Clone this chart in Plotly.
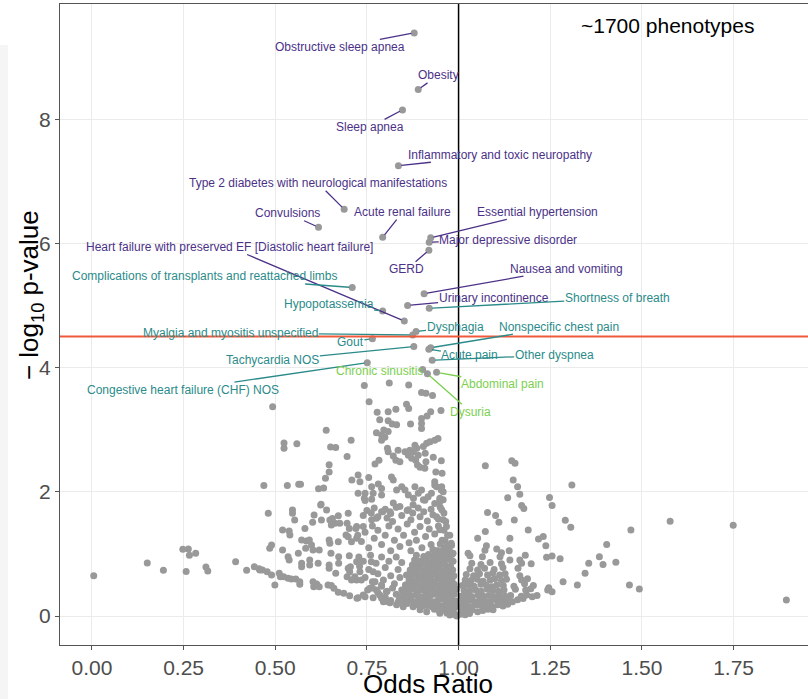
import plotly.graph_objects as go

# ---------------- data (odds ratio, -log10 p) ----------------
far_left = [(0.005,0.65),(0.151,0.855),(0.195,0.735),(0.248,1.075),(0.263,1.08),(0.266,0.98),
            (0.283,1.01),(0.257,0.715),(0.311,0.79),(0.316,0.725),(0.392,0.875),(0.422,0.735),
            (0.443,0.795),(0.456,0.76)]

mid_low = [(0.481,1.653),(0.547,1.706),(0.547,1.653),(0.553,1.545),(0.520,1.384),(0.538,1.368),
           (0.540,1.304),(0.581,1.411),(0.602,1.508),(0.606,1.626),(0.626,1.545),(0.624,1.787),
           (0.640,1.706),(0.649,1.545),(0.656,1.572),(0.663,1.492),(0.672,1.615),(0.653,1.465),
           (0.676,1.492),(0.699,1.653),(0.696,1.492),(0.702,1.411),(0.693,1.304),(0.720,1.411),
           (0.722,1.250),(0.490,1.143),(0.485,1.089),(0.520,1.062),(0.572,1.223),(0.585,1.207),
           (0.593,1.223),(0.583,1.089),(0.603,1.062),(0.599,1.143),(0.620,1.062),(0.647,1.223),
           (0.649,1.170),(0.672,1.197),(0.699,1.277),(0.708,1.197),(0.535,0.955),(0.538,0.901),
           (0.563,1.009),(0.572,0.848),(0.572,0.794),(0.594,0.901),(0.594,0.821),(0.617,0.848),
           (0.652,1.009),(0.647,0.821),(0.647,0.767),(0.673,0.955),(0.673,0.848),(0.702,0.971),
           (0.705,0.794),(0.722,0.874),(0.458,0.740),(0.465,0.740),(0.478,0.713),(0.490,0.660),
           (0.511,0.687),(0.514,0.633),(0.523,0.633),(0.535,0.606),(0.544,0.596),(0.556,0.596),
           (0.567,0.552),(0.567,0.510),(0.499,0.499),(0.603,0.552),(0.605,0.472),(0.613,0.515),
           (0.620,0.472),(0.644,0.499),(0.653,0.490),(0.660,0.445),(0.672,0.381),(0.687,0.365),
           (0.703,0.327),(0.723,0.284),(0.665,0.687),(0.699,0.767),(0.703,0.713),(0.696,0.633),
           (0.717,0.633),(0.722,0.579),(0.708,0.579)]

mid_high = [(0.469,2.10),(0.524,2.785),(0.524,2.70),(0.559,2.775),(0.533,2.10),(0.564,2.12),
            (0.569,2.12),(0.618,2.05),(0.632,2.06),(0.625,1.80),(0.639,2.99),(0.651,2.72),
            (0.665,2.715),(0.647,2.435),(0.647,2.32),(0.637,2.22),(0.707,2.83),(0.696,2.57),
            (0.709,2.19),(0.493,3.37)]

upper_cloud = [(0.743,3.71),(0.811,3.75),(0.864,3.72),(0.899,3.60),(0.911,3.585),(0.929,3.55),
               (0.756,3.45),(0.858,3.41),(0.864,3.34),(0.778,3.28),(0.808,3.29),(0.829,3.33),
               (0.785,3.16),(0.808,3.145),(0.819,3.09),(0.831,3.08),(0.869,3.09),(0.899,3.18),
               (0.899,3.10),(0.899,3.02),(0.914,3.22),(0.924,3.29),(0.952,3.31),(0.776,2.95),
               (0.790,2.915),(0.799,2.88),(0.808,2.97),(0.796,2.995),(0.790,2.83),(0.806,2.70),
               (0.808,2.645),(0.835,2.67),(0.822,2.577),(0.829,2.51),(0.840,2.485),(0.854,2.646),
               (0.867,2.67),(0.863,2.59),(0.872,2.54),(0.881,2.75),(0.886,2.70),(0.877,2.646),
               (0.890,2.59),(0.883,2.51),(0.888,2.43),(0.895,2.394),(0.908,2.38),(0.911,2.485),
               (0.904,2.73),(0.913,2.78),(0.922,2.807),(0.935,2.83),(0.944,2.86),(0.909,2.62),
               (0.931,2.556),(0.953,2.50),(0.938,2.32),(0.955,2.297),(0.783,2.51),(0.772,2.447),
               (0.726,2.27),(0.731,2.163),(0.755,2.23),(0.726,1.975),(0.745,1.975),(0.743,1.895),
               (0.767,1.975),(0.763,2.08),(0.781,2.125),(0.790,2.055),(0.817,2.24),(0.822,2.19),
               (0.790,1.95),(0.763,1.88),(0.831,2.03),(0.845,2.08),(0.854,2.03),(0.863,1.95),
               (0.877,1.895),(0.881,2.08),(0.890,1.975),(0.899,2.03),(0.908,1.865),(0.917,1.92),
               (0.926,1.975),(0.940,2.08),(0.935,2.163),(0.953,2.03),(0.949,1.895),(0.935,2.11),
               (0.954,2.08),(0.958,2.00)]

left_mid = [(0.745,1.86),(0.740,1.44),(0.722,1.44),(0.763,1.55),(0.776,1.575),(0.793,1.68),
            (0.813,1.68),(0.822,1.82),(0.840,1.765),(0.863,1.71),(0.876,1.79),(0.904,1.87),
            (0.949,1.87),(0.958,1.87),(0.74,1.62),(0.75,1.70),(0.762,1.66),(0.77,1.74),
            (0.78,1.60),(0.79,1.68),(0.80,1.72),(0.805,1.58),(0.815,1.65),(0.82,1.52),
            (0.83,1.75),(0.845,1.62),(0.86,1.70),(0.87,1.55),(0.875,1.66),(0.89,1.74),
            (0.895,1.60),(0.905,1.68),(0.915,1.53),(0.925,1.72),(0.93,1.63),(0.945,1.56),
            (0.95,1.75),(0.96,1.66),(0.965,1.52),(0.725,1.30),(0.735,1.20),(0.745,1.35),
            (0.755,1.10),(0.765,1.45),(0.77,1.25),(0.78,1.38),(0.79,1.15),(0.80,1.30),
            (0.81,1.45),(0.815,1.05),(0.825,1.22),(0.835,1.40),(0.84,1.12),(0.85,1.30),
            (0.86,1.48),(0.865,1.18),(0.87,1.05),(0.88,1.35),(0.885,1.22),(0.895,1.44),
            (0.90,1.10),(0.91,1.28),(0.92,1.40),(0.925,1.15),(0.935,1.32),(0.94,1.05),
            (0.945,1.45),(0.955,1.22),(0.96,1.38),(0.965,1.10),(0.97,1.30),(0.975,1.02),
            (0.935,1.81),(0.949,1.84),(0.954,1.71),(0.94,1.60),(0.958,1.55),(0.967,1.44),
            (0.949,1.39),(0.976,1.30),(0.963,1.22),(0.981,1.14),(0.967,1.06),(0.985,1.01)]

left_low = [(0.728,0.95),(0.73,0.80),(0.74,0.88),(0.745,0.62),(0.755,0.75),(0.76,0.98),
            (0.765,0.55),(0.775,0.85),(0.78,0.68),(0.79,0.95),(0.795,0.58),(0.80,0.78),
            (0.81,0.88),(0.815,0.65),(0.825,0.52),(0.83,0.95),(0.835,0.75),(0.84,0.62),
            (0.845,0.86),(0.765,0.45),(0.78,0.38),(0.79,0.48),(0.80,0.30),(0.805,0.40),
            (0.815,0.25),(0.82,0.45),(0.83,0.35),(0.835,0.22),(0.845,0.42),(0.85,0.30),
            (0.86,0.20),(0.855,0.50),(0.726,0.295),(0.745,0.31),(0.767,0.295),(0.752,0.42),
            (0.776,0.42),(0.785,0.34),(0.795,0.23),(0.813,0.215),(0.831,0.18),(0.849,0.15),
            (0.876,0.15),(0.895,0.10),(0.913,0.07),(0.949,0.045),(0.976,0.015),(0.995,0.0),
            (0.731,0.713),(0.735,0.579),(0.762,0.874),(0.767,0.713),(0.772,0.552),(0.758,0.445),
            (0.74,0.338),(0.79,0.499),(0.803,0.391),(0.79,0.284),(0.808,0.23)]

left_core = [(0.968,0.05),(0.981,0.03),(0.992,0.02),(0.975,0.07),
             (0.934,0.11),(0.947,0.09),(0.959,0.10),(0.972,0.12),(0.986,0.08),
             (0.889,0.18),(0.901,0.16),(0.914,0.17),(0.927,0.15),(0.94,0.18),(0.953,0.16),
             (0.966,0.19),(0.979,0.17),(0.992,0.15),
             (0.838,0.26),(0.851,0.24),(0.864,0.25),(0.877,0.23),(0.891,0.26),(0.904,0.24),
             (0.917,0.26),(0.93,0.23),(0.943,0.25),(0.956,0.27),(0.969,0.24),(0.982,0.26),(0.994,0.24),
             (0.846,0.33),(0.858,0.35),(0.871,0.32),(0.884,0.34),(0.897,0.31),(0.91,0.34),
             (0.923,0.33),(0.936,0.35),(0.949,0.32),(0.962,0.34),(0.975,0.33),(0.988,0.35),
             (0.852,0.42),(0.865,0.40),(0.878,0.43),(0.891,0.41),(0.904,0.42),(0.917,0.40),
             (0.93,0.43),(0.943,0.41),(0.956,0.40),(0.969,0.42),(0.982,0.41),(0.994,0.43),
             (0.858,0.50),(0.871,0.48),(0.884,0.51),(0.897,0.49),(0.91,0.50),(0.923,0.48),
             (0.936,0.51),(0.949,0.49),(0.962,0.50),(0.975,0.48),(0.988,0.51),
             (0.865,0.58),(0.878,0.56),(0.891,0.59),(0.904,0.57),(0.917,0.58),(0.93,0.56),
             (0.943,0.59),(0.956,0.57),(0.969,0.56),(0.982,0.58),
             (0.858,0.66),(0.871,0.64),(0.884,0.67),(0.897,0.65),(0.91,0.66),(0.923,0.64),
             (0.936,0.67),(0.949,0.65),(0.962,0.64),(0.975,0.66),(0.987,0.65),
             (0.868,0.74),(0.881,0.72),(0.894,0.75),(0.907,0.73),(0.92,0.74),(0.933,0.72),
             (0.946,0.75),(0.959,0.73),(0.972,0.72),(0.984,0.74),
             (0.874,0.82),(0.887,0.80),(0.90,0.83),(0.913,0.81),(0.926,0.82),(0.939,0.80),
             (0.952,0.83),(0.965,0.81),(0.978,0.80),
             (0.88,0.90),(0.895,0.88),(0.91,0.91),(0.922,0.89),(0.935,0.88),(0.948,0.90),
             (0.961,0.89),(0.974,0.91),(0.985,0.88),
             (0.885,0.98),(0.905,0.96),(0.918,0.99),(0.931,0.97),(0.944,0.96),(0.957,0.98),
             (0.97,0.97),(0.982,0.99),
             (0.93,1.07),(0.945,1.05),(0.96,1.08),(0.975,1.06),
             (0.95,1.16),(0.968,1.14),(0.98,1.17)]

right_core = [(1.005,0.03),(1.018,0.02),(1.03,0.04),
              (1.01,0.09),(1.024,0.08),(1.037,0.10),(1.052,0.07),(1.066,0.09),(1.08,0.11),(1.094,0.10),
              (1.008,0.16),(1.022,0.17),(1.036,0.15),(1.05,0.18),(1.064,0.16),(1.079,0.17),
              (1.093,0.15),(1.107,0.18),(1.121,0.16),(1.134,0.19),
              (1.012,0.24),(1.027,0.25),(1.043,0.23),(1.058,0.26),(1.072,0.24),(1.087,0.23),
              (1.103,0.26),(1.118,0.24),(1.132,0.25),(1.147,0.23),(1.161,0.26),(1.176,0.28),
              (1.007,0.32),(1.021,0.33),(1.037,0.31),(1.053,0.34),(1.068,0.32),(1.083,0.33),
              (1.097,0.31),(1.112,0.34),(1.127,0.32),(1.142,0.33),(1.171,0.32),
              (1.186,0.34),(1.201,0.31),(1.214,0.33),
              (1.015,0.41),(1.03,0.40),(1.047,0.42),(1.062,0.40),(1.079,0.43),(1.094,0.41),
              (1.109,0.40),(1.124,0.42),(1.155,0.43),(1.183,0.42),(1.197,0.44),
              (1.01,0.49),(1.026,0.50),(1.042,0.48),(1.061,0.51),(1.076,0.49),(1.091,0.47),
              (1.104,0.50),(1.122,0.49),(1.151,0.48),(1.18,0.52),(1.204,0.49),
              (1.018,0.58),(1.034,0.57),(1.051,0.59),(1.067,0.56),(1.086,0.58),(1.099,0.60),
              (1.117,0.57),(1.131,0.59),(1.172,0.58),(1.188,0.60),
              (1.021,0.67),(1.041,0.65),(1.057,0.68),(1.079,0.66),(1.093,0.69),(1.112,0.66),
              (1.127,0.68),(1.167,0.65),
              (1.031,0.76),(1.052,0.74),(1.071,0.77),(1.097,0.75),(1.121,0.78),(1.162,0.77),
              (1.036,0.85),(1.061,0.83),(1.086,0.86),(1.117,0.84),(1.172,0.85)]

right_sparse = [(1.073,2.42),(1.145,2.50),(1.154,2.46),(1.149,2.19),(1.161,2.08),(1.167,1.96),
                (1.134,1.905),(1.172,1.78),(1.178,1.73),(1.079,1.665),(1.101,1.62),(1.110,1.51),
                (1.152,1.545),(1.190,1.385),(1.052,1.25),(1.073,1.36),(1.140,1.25),(1.218,1.24),
                (1.231,1.28),(1.238,1.13),(1.248,1.91),(1.255,1.78),(1.309,2.11),(1.291,1.54),
                (1.306,1.43),(1.470,1.385),(1.577,1.525),(1.749,1.46),(1.404,1.15),(1.384,0.955),
                (1.394,0.83),(1.355,0.85),(1.345,0.69),(1.429,0.865),(1.240,0.945),(1.255,0.965),
                (1.277,0.92),(1.285,0.55),(1.324,0.50),(1.243,0.42),(1.255,0.39),(1.246,0.455),
                (1.466,0.50),(1.493,0.435),(1.894,0.257),(1.076,1.13),(1.104,1.08),(1.117,1.02),
                (1.138,1.05),(1.140,0.90),(1.167,0.90),(1.182,0.98),(1.198,0.84),(1.072,1.06),
                (1.065,0.955),(1.113,0.955),(1.026,1.01),(1.031,0.97)]

# labelled phenotypes
label_names = ["Obstructive sleep apnea", "Obesity", "Sleep apnea",
               "Inflammatory and toxic neuropathy",
               "Type 2 diabetes with neurological manifestations", "Convulsions",
               "Acute renal failure", "Essential hypertension", "Major depressive disorder",
               "GERD", "Heart failure with preserved EF [Diastolic heart failure]",
               "Nausea and vomiting", "Complications of transplants and reattached limbs",
               "Urinary incontinence", "Shortness of breath", "Hypopotassemia", "Dysphagia",
               "Nonspecific chest pain", "Myalgia and myositis unspecified", "Gout",
               "Tachycardia NOS", "Acute pain", "Other dyspnea",
               "Congestive heart failure (CHF) NOS", "Chronic sinusitis", "Abdominal pain",
               "Dysuria"]
label_or = [0.879, 0.890, 0.847, 0.836, 0.688, 0.618, 0.793, 0.924, 0.920, 0.919, 0.852,
            0.906, 0.710, 0.861, 0.920, 0.793, 0.884, 0.924, 0.875, 0.765, 0.878, 0.919,
            0.928, 0.751, 0.902, 0.940, 0.915]
label_p = [9.39, 8.48, 8.15, 7.25, 6.55, 6.26, 6.10, 6.09, 6.02, 5.89, 4.75, 5.19, 5.29,
           5.00, 4.955, 4.91, 4.58, 4.32, 4.525, 4.465, 4.34, 4.295, 4.12, 4.08, 3.97,
           3.925, 3.90]
label_group = [1, 1, 1, 1, 1, 1, 1, 1, 1, 1, 1, 1, 2, 1, 2, 2, 2, 2, 2, 2, 2, 2, 2, 2,
               3, 3, 3]

threshold = 4.5
x_ticks = [0.0, 0.25, 0.5, 0.75, 1.0, 1.25, 1.5, 1.75]
x_tick_text = ["0.00", "0.25", "0.50", "0.75", "1.00", "1.25", "1.50", "1.75"]
y_ticks = [0, 2, 4, 6, 8]

# ---------------- styling / layout ----------------
group_colors = {1: "#4b3187", 2: "#2a8b8a", 3: "#7ccf4f"}
# text offsets (pixels) of each label from its point
label_offsets = [(-74, 14), (20, -14), (-32, 17), (102, -11), (-26, -26), (-31, -14),
                 (20, -25), (107, -26), (79, -2), (-22, 19), (-175, -74), (142, -25),
                 (-148, -11), (86, -8), (188, -10), (-54, -7), (39, -5), (128, -21),
                 (-182, -2), (-22, 3), (-141, 14), (41, 6), (122, -5), (-184, 27),
                 (-43, 2), (66, 12), (43, 38)]

FONT = "Liberation Sans, Arial, sans-serif"

pts = (far_left + mid_low + mid_high + upper_cloud + left_mid + left_low + left_core
       + right_core + right_sparse + list(zip(label_or, label_p)))
xs = [p[0] for p in pts]
ys = [p[1] for p in pts]

fig = go.Figure()
fig.add_trace(go.Scatter(x=xs, y=ys, mode="markers",
                         marker=dict(size=7, color="#999999", line=dict(width=0)),
                         hoverinfo="skip", showlegend=False, cliponaxis=True))

annotations = []
for name, ox, oy, g, (dx, dy) in zip(label_names, label_or, label_p, label_group, label_offsets):
    c = group_colors[g]
    annotations.append(dict(x=ox, y=oy, xref="x", yref="y", text=name, showarrow=True,
                            arrowhead=0, arrowwidth=1.3, arrowcolor=c, ax=dx, ay=dy,
                            standoff=3, borderpad=0,
                            font=dict(family=FONT, size=12, color=c)))

annotations.append(dict(x=0.812, y=0.967, xref="paper", yref="paper", text="~1700 phenotypes",
                        xanchor="center", yanchor="middle",
                        showarrow=False, font=dict(family=FONT, size=21, color="black")))
annotations.append(dict(x=0.492, y=-0.0605, xref="paper", yref="paper", text="Odds Ratio",
                        xanchor="center", yanchor="middle",
                        showarrow=False, font=dict(family=FONT, size=26, color="black")))
annotations.append(dict(x=-0.040, y=0.546, xref="paper", yref="paper", textangle=-90,
                        xanchor="center", yanchor="middle",
                        text="\u2212 log<sub>10</sub> p-value",
                        showarrow=False, font=dict(family=FONT, size=26, color="black")))

shapes = [
    dict(type="rect", xref="paper", yref="paper", x0=-0.0802, x1=-0.0695, y0=-0.0842, y1=0.936,
         fillcolor="#f5f5f5", line=dict(width=0), layer="below"),
    dict(type="line", xref="x", yref="paper", x0=1.0, x1=1.0, y0=0, y1=1,
         line=dict(color="black", width=1.5)),
    dict(type="line", xref="paper", yref="y", x0=0, x1=1, y0=threshold, y1=threshold,
         line=dict(color="#ef5a3c", width=2)),
]

fig.update_layout(
    width=808, height=699,
    margin=dict(l=60, r=0, t=4, b=54, autoexpand=False),
    paper_bgcolor="white", plot_bgcolor="white",
    font=dict(family=FONT),
    annotations=annotations, shapes=shapes,
    xaxis=dict(range=[-0.087, 1.953], tickvals=x_ticks, ticktext=x_tick_text,
               automargin=False,
               showgrid=True, gridcolor="#ebebeb", gridwidth=1, zeroline=False,
               showline=True, linecolor="#555555", linewidth=1, mirror=True,
               ticks="outside", ticklen=4, tickcolor="#555555",
               tickfont=dict(family=FONT, size=21, color="#4d4d4d")),
    yaxis=dict(range=[-0.467, 9.855], tickvals=y_ticks, automargin=False,
               showgrid=True, gridcolor="#ebebeb", gridwidth=1, zeroline=False,
               showline=True, linecolor="#555555", linewidth=1,
               ticks="outside", ticklen=4, tickcolor="#555555",
               tickfont=dict(family=FONT, size=21, color="#4d4d4d")),
)

fig.write_html("out.html", config={"displayModeBar": False},
               post_script="document.body.style.margin='0px';document.body.style.overflow='hidden';")
